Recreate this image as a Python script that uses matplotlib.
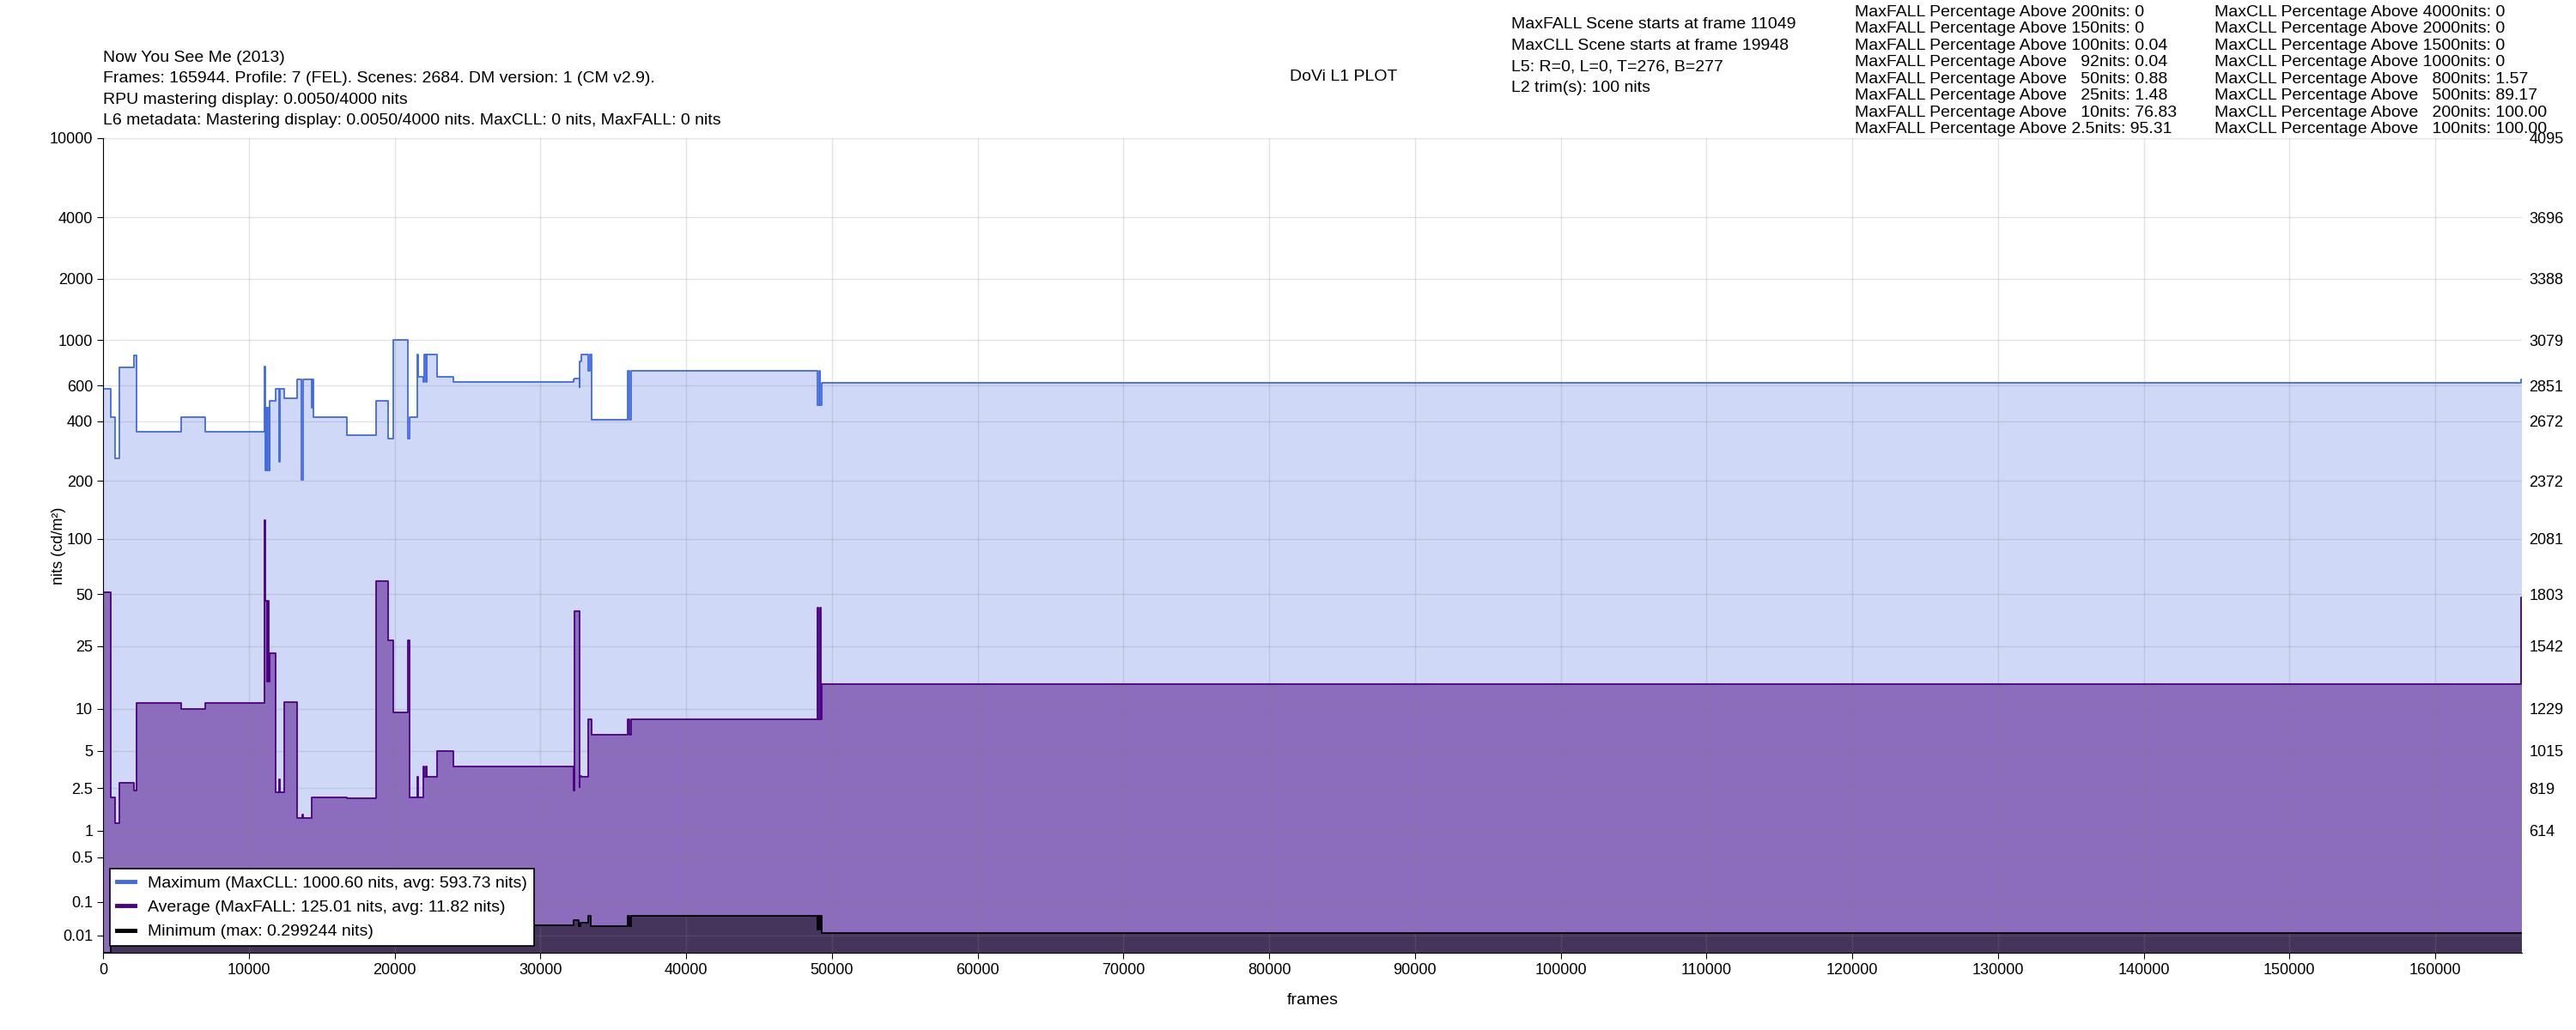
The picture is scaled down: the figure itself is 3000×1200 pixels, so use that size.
import numpy as np
import matplotlib
matplotlib.use("Agg")
import matplotlib.pyplot as plt
from matplotlib.lines import Line2D

plt.rcParams['font.family'] = ['Liberation Sans', 'DejaVu Sans']

# scene start frames and nits
total_frames = 165944

max_frames = [0, 531, 825, 1119, 2119, 2296, 5352, 6999, 11056, 11110, 11200, 11260,
              11311, 11420, 11448, 11820, 12060, 12130, 12428, 13290, 13600, 13720,
              14290, 14380, 14447, 16701, 18759, 19582, 19935, 20935, 21013, 21542,
              21620, 21954, 22032, 22150, 22220, 22934, 24012, 32281, 32340, 32673,
              32720, 32810, 33300, 33418, 33496, 36005, 36100, 36221, 49040, 49150,
              49200, 49334, 165900]
max_nits = [580, 420, 260, 739, 847, 354, 420, 354, 743, 226, 466, 226,
            466, 226, 505, 575, 251, 575, 520, 643, 202, 643,
            466, 643, 420, 340, 505, 327, 1000.6, 327, 420, 855,
            662, 627, 855, 627, 855, 662, 627, 640, 652, 590,
            790, 855, 710, 855, 408, 710, 408, 710, 480, 710,
            480, 620, 640]

avg_frames = [0, 531, 825, 1119, 2119, 2296, 5352, 6999, 11056, 11110, 11250, 11311,
              11380, 11448, 11820, 12060, 12130, 12428, 13290, 13663, 13720, 14290,
              16701, 18759, 19582, 19935, 20935, 21013, 21542, 21600, 21954, 22032,
              22150, 22189, 22934, 24012, 32281, 32340, 32673, 32720, 32810, 33300,
              33496, 36005, 36100, 36221, 49040, 49080, 49160, 49236, 49334, 165900]
avg_nits = [51, 2.1, 1.2, 2.8, 2.4, 10.9, 10.0, 10.9, 125.01, 46, 15, 46,
            15, 22.6, 2.3, 3.0, 2.3, 11.1, 1.35, 1.45, 1.35, 2.1,
            2.05, 59, 27, 9.4, 27, 2.1, 3.1, 2.1, 3.8, 3.15,
            3.8, 3.15, 5.0, 3.8, 2.4, 40, 2.55, 3.2, 3.15, 8.4,
            6.6, 8.4, 6.6, 8.4, 42, 8.4, 42, 8.4, 14.5, 48]

min_frames = [0, 531, 32281, 32650, 32760, 33300, 33457, 36005, 36100, 36221,
              49040, 49080, 49160, 49236, 49334]
min_nits = [0.0, 0.025, 0.036, 0.023, 0.030, 0.047, 0.023, 0.047, 0.023, 0.047,
            0.018, 0.047, 0.018, 0.047, 0.013]

left_ticks = [0.01, 0.1, 0.5, 1, 2.5, 5, 10, 25, 50, 100, 200, 400, 600, 1000, 2000, 4000, 10000]
left_labels = ["0.01", "0.1", "0.5", "1", "2.5", "5", "10", "25", "50", "100", "200",
               "400", "600", "1000", "2000", "4000", "10000"]
right_ticks = [1, 2.5, 5, 10, 25, 50, 100, 200, 400, 600, 1000, 2000, 4000, 10000]
right_labels = ["614", "819", "1015", "1229", "1542", "1803", "2081", "2372", "2672",
                "2851", "3079", "3388", "3696", "4095"]

fall_levels = ["200", "150", "100", "92", "50", "25", "10", "2.5"]
fall_pct = ["0", "0", "0.04", "0.04", "0.88", "1.48", "76.83", "95.31"]
cll_levels = ["4000", "2000", "1500", "1000", "800", "500", "200", "100"]
cll_pct = ["0", "0", "0", "0", "1.57", "89.17", "100.00", "100.00"]


def pq(nits):
    # SMPTE ST 2084 inverse EOTF, 12-bit code values
    m1, m2 = 2610 / 16384, 2523 / 4096 * 128
    c1, c2, c3 = 3424 / 4096, 2413 / 4096 * 32, 2392 / 4096 * 32
    y = np.asarray(nits, dtype=float) / 10000.0
    ym = np.power(y, m1)
    return 4095 * np.power((c1 + c2 * ym) / (1 + c3 * ym), m2)


def steps(frames, nits):
    x = np.append(frames, total_frames)
    y = np.append(pq(nits), pq(nits[-1]))
    return x, y


fig = plt.figure(figsize=(30, 12), dpi=100)
ax = fig.add_axes([0.04, 0.075, 0.939, 0.791])

series = [
    (max_frames, max_nits, 'royalblue', 0.25, 'Maximum (MaxCLL: 1000.60 nits, avg: 593.73 nits)'),
    (avg_frames, avg_nits, 'indigo', 0.5, 'Average (MaxFALL: 125.01 nits, avg: 11.82 nits)'),
    (min_frames, min_nits, 'black', 0.5, 'Minimum (max: 0.299244 nits)'),
]
handles = []
for frames, nits, color, alpha, label in series:
    x, y = steps(frames, nits)
    ax.fill_between(x, 0, y, step='post', color=color, alpha=alpha, linewidth=0, zorder=2)
    ax.step(x, y, where='post', color=color, linewidth=1.3, zorder=3)
    handles.append(Line2D([0], [0], color=color, linewidth=3.5, label=label))

ax.set_xlim(0, total_frames)
ax.set_ylim(0, 4095)
ax.set_xticks(np.arange(0, 160001, 10000))
ax.set_yticks(pq(left_ticks))
ax.set_yticklabels(left_labels)
ax.tick_params(labelsize=13, length=5)
ax.grid(True, color='gray', alpha=0.22, linewidth=1, zorder=4)
ax.set_axisbelow(False)
for side in ['top', 'right']:
    ax.spines[side].set_visible(False)
ax.spines['left'].set_zorder(5)
ax.spines['bottom'].set_zorder(5)
ax.set_xlabel("frames", fontsize=14)
ax.set_ylabel("nits (cd/m²)", fontsize=13)
ax.xaxis.set_label_coords(0.5, -0.049)
ax.yaxis.set_label_coords(-0.0152, 0.5)

ax2 = ax.twinx()
ax2.set_ylim(0, 4095)
ax2.set_yticks(pq(right_ticks))
ax2.set_yticklabels(right_labels)
ax2.tick_params(labelsize=13, length=0, pad=6)
for side in ['top', 'right', 'left', 'bottom']:
    ax2.spines[side].set_visible(False)

leg = ax.legend(handles=handles, loc='lower left', fontsize=14, handlelength=1.1,
                frameon=True, fancybox=False, edgecolor='black', framealpha=1,
                borderaxespad=0.4, labelspacing=0.55)
leg.get_frame().set_linewidth(1.2)
leg.set_zorder(10)

fs = 14
header = ["Now You See Me (2013)",
          "Frames: 165944. Profile: 7 (FEL). Scenes: 2684. DM version: 1 (CM v2.9).",
          "RPU mastering display: 0.0050/4000 nits",
          "L6 metadata: Mastering display: 0.0050/4000 nits. MaxCLL: 0 nits, MaxFALL: 0 nits"]
fig.text(0.04, 0.951, "\n".join(header), fontsize=fs, va='top', ha='left', linespacing=1.57)
fig.text(0.5007, 0.925, "DoVi L1 PLOT", fontsize=fs, va='center', ha='left')

scene = ["MaxFALL Scene starts at frame 11049",
         "MaxCLL Scene starts at frame 19948",
         "L5: R=0, L=0, T=276, B=277",
         "L2 trim(s): 100 nits"]
fig.text(0.5867, 0.983, "\n".join(scene), fontsize=fs, va='top', ha='left', linespacing=1.57)

# numbers padded with figure spaces so they right-align like the original
fall_lines = ["MaxFALL Percentage Above %snits: %s" % (lv.rjust(3, "\u2007"), p)
              for lv, p in zip(fall_levels, fall_pct)]
cll_lines = ["MaxCLL Percentage Above %snits: %s" % (lv.rjust(4, "\u2007"), p)
             for lv, p in zip(cll_levels, cll_pct)]
fig.text(0.72, 0.995, "\n".join(fall_lines), fontsize=fs, va='top', ha='left', linespacing=1.19)
fig.text(0.8597, 0.995, "\n".join(cll_lines), fontsize=fs, va='top', ha='left', linespacing=1.19)

fig.savefig("out.png", dpi=100)
